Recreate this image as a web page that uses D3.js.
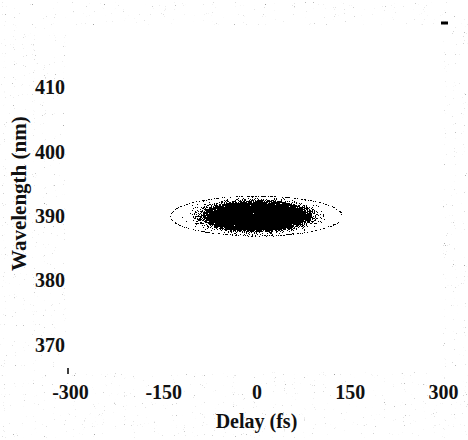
<!DOCTYPE html>
<html>
<head>
<meta charset="utf-8">
<script src="https://cdn.jsdelivr.net/npm/d3@7"></script>
<style>
  body { margin: 0; background: #fff; }
  svg { display: block; }
  text { font-family: "Liberation Serif", "DejaVu Serif", serif; font-weight: bold; fill: #111; }
</style>
</head>
<body>
<div id="container"></div>
<script>
const width = 468;
const height = 440;

// axis ticks
const delayTicks = [-300, -150, 0, 150, 300];
const wavelengthTicks = [370, 380, 390, 400, 410];

// the trace: nested contours around the peak, outside to inside
const peakDelay = 0;
const peakWavelength = 390;
const contourLevel = [0.15, 0.35, 0.55, 0.75, 0.95, 1.0];
const contourHalfDelay = [148, 130, 112, 95, 80, 62];
const contourHalfWl = [3.7, 3.3, 2.9, 2.5, 2.2, 1.8];
// faint outermost ring
const ringHalfDelay = 138;
const ringHalfWl = 3.1;

const x = d3.scaleLinear().domain([-300, 300]).range([70, 443]);
const y = d3.scaleLinear().domain([365.8, 420]).range([372, 23]);

const x0 = x.range()[0], x1 = x.range()[1];
const yb = y.range()[0], yt = y.range()[1];

const svg = d3.select("#container")
  .append("svg")
  .attr("width", width)
  .attr("height", height);

const defs = svg.append("defs");

// grainy, scanned look, kept inside the plot box
function grainFilter(id, blur, k2, k3, seed) {
  const f = defs.append("filter")
    .attr("id", id)
    .attr("filterUnits", "userSpaceOnUse")
    .attr("x", x0).attr("y", yt)
    .attr("width", x1 - x0).attr("height", yb - yt)
    .attr("color-interpolation-filters", "sRGB");
  f.append("feGaussianBlur").attr("in", "SourceGraphic").attr("stdDeviation", blur).attr("result", "soft");
  f.append("feTurbulence")
    .attr("type", "fractalNoise").attr("baseFrequency", 0.9)
    .attr("numOctaves", 2).attr("seed", seed).attr("result", "n");
  f.append("feColorMatrix").attr("in", "n").attr("type", "matrix")
    .attr("values", "0 0 0 0 0  0 0 0 0 0  0 0 0 0 0  1 0 0 0 0")
    .attr("result", "na");
  f.append("feColorMatrix").attr("in", "soft").attr("type", "matrix")
    .attr("values", "0 0 0 0 0  0 0 0 0 0  0 0 0 0 0  -1 0 0 1 0")
    .attr("result", "dark");
  f.append("feComposite").attr("in", "dark").attr("in2", "na")
    .attr("operator", "arithmetic")
    .attr("k1", 0).attr("k2", k2).attr("k3", k3).attr("k4", 0.5)
    .attr("result", "mix");
  f.append("feComponentTransfer").attr("in", "mix").attr("result", "th")
    .append("feFuncA").attr("type", "discrete").attr("tableValues", "0 1");
  f.append("feFlood").attr("flood-color", "#000").attr("result", "ink");
  f.append("feComposite").attr("in", "ink").attr("in2", "th").attr("operator", "in");
}
grainFilter("grain", 3, 1.4, -1.6, 4);
grainFilter("grainRing", 0.3, 1.2, -1.6, 7);

// paper speckle in the margins
const speck = defs.append("filter")
  .attr("id", "speck")
  .attr("filterUnits", "userSpaceOnUse")
  .attr("x", 0).attr("y", 0).attr("width", width).attr("height", height)
  .attr("color-interpolation-filters", "sRGB");
speck.append("feTurbulence")
  .attr("type", "fractalNoise").attr("baseFrequency", 1.1)
  .attr("numOctaves", 1).attr("seed", 9).attr("result", "n");
speck.append("feColorMatrix").attr("in", "n").attr("type", "matrix")
  .attr("values", "0 0 0 0 0.5  0 0 0 0 0.5  0 0 0 0 0.5  6 0 0 0 -4.25")
  .attr("result", "dots");
speck.append("feComposite").attr("in", "dots").attr("in2", "SourceAlpha").attr("operator", "in");

svg.append("path")
  .attr("fill", "#000")
  .attr("fill-rule", "evenodd")
  .attr("filter", "url(#speck)")
  .attr("d", `M0,2H${width}V${height - 2}H0Z M${x0 - 4},${yt + 2}H${x1}V${yb}H${x0 - 4}Z`);

// trace
const trace = svg.append("g").attr("filter", "url(#grain)");
trace.append("rect")
  .attr("x", x0).attr("y", yt)
  .attr("width", x1 - x0).attr("height", yb - yt)
  .attr("fill", "#fff");
trace.selectAll("ellipse")
  .data(contourLevel.map((lv, i) => ({ lv, hd: contourHalfDelay[i], hw: contourHalfWl[i] })))
  .enter()
  .append("ellipse")
  .attr("cx", x(peakDelay))
  .attr("cy", y(peakWavelength))
  .attr("rx", d => x(peakDelay + d.hd) - x(peakDelay))
  .attr("ry", d => y(peakWavelength) - y(peakWavelength + d.hw))
  .attr("fill", d => d3.interpolateGreys(d.lv));

const ring = svg.append("g").attr("filter", "url(#grainRing)");
ring.append("rect")
  .attr("x", x0).attr("y", yt)
  .attr("width", x1 - x0).attr("height", yb - yt)
  .attr("fill", "#fff");
ring.append("ellipse")
  .attr("cx", x(peakDelay))
  .attr("cy", y(peakWavelength))
  .attr("rx", x(peakDelay + ringHalfDelay) - x(peakDelay))
  .attr("ry", y(peakWavelength) - y(peakWavelength + ringHalfWl))
  .attr("fill", "none")
  .attr("stroke", "#555")
  .attr("stroke-width", 1.6);

// axes
const xAxis = svg.append("g")
  .attr("transform", `translate(0,${yb})`)
  .call(d3.axisBottom(x).tickValues(delayTicks).tickFormat(d => String(d)).tickSize(0).tickPadding(13));
xAxis.select(".domain").remove();
xAxis.selectAll("text").attr("font-size", 20).attr("font-family", null).attr("fill", null);

const yAxis = svg.append("g")
  .attr("transform", `translate(${x0 - 2},0)`)
  .call(d3.axisLeft(y).tickValues(wavelengthTicks).tickFormat(d => String(d)).tickSize(0).tickPadding(3));
yAxis.select(".domain").remove();
yAxis.selectAll("text").attr("font-size", 20).attr("font-family", null).attr("fill", null);

// small corner marks
svg.append("line")
  .attr("x1", x0 - 2).attr("x2", x0 - 2).attr("y1", yb - 4).attr("y2", yb + 2)
  .attr("stroke", "#000").attr("stroke-width", 1.5);
svg.append("line")
  .attr("x1", x1 - 2).attr("x2", x1 + 5).attr("y1", yt).attr("y2", yt)
  .attr("stroke", "#000").attr("stroke-width", 3);

// axis titles
svg.append("text")
  .attr("x", x(0))
  .attr("y", 428)
  .attr("text-anchor", "middle")
  .attr("font-size", 20)
  .text("Delay (fs)");

svg.append("text")
  .attr("transform", `translate(26,${y(393.5)}) rotate(-90)`)
  .attr("text-anchor", "middle")
  .attr("font-size", 21)
  .text("Wavelength (nm)");
</script>
</body>
</html>
